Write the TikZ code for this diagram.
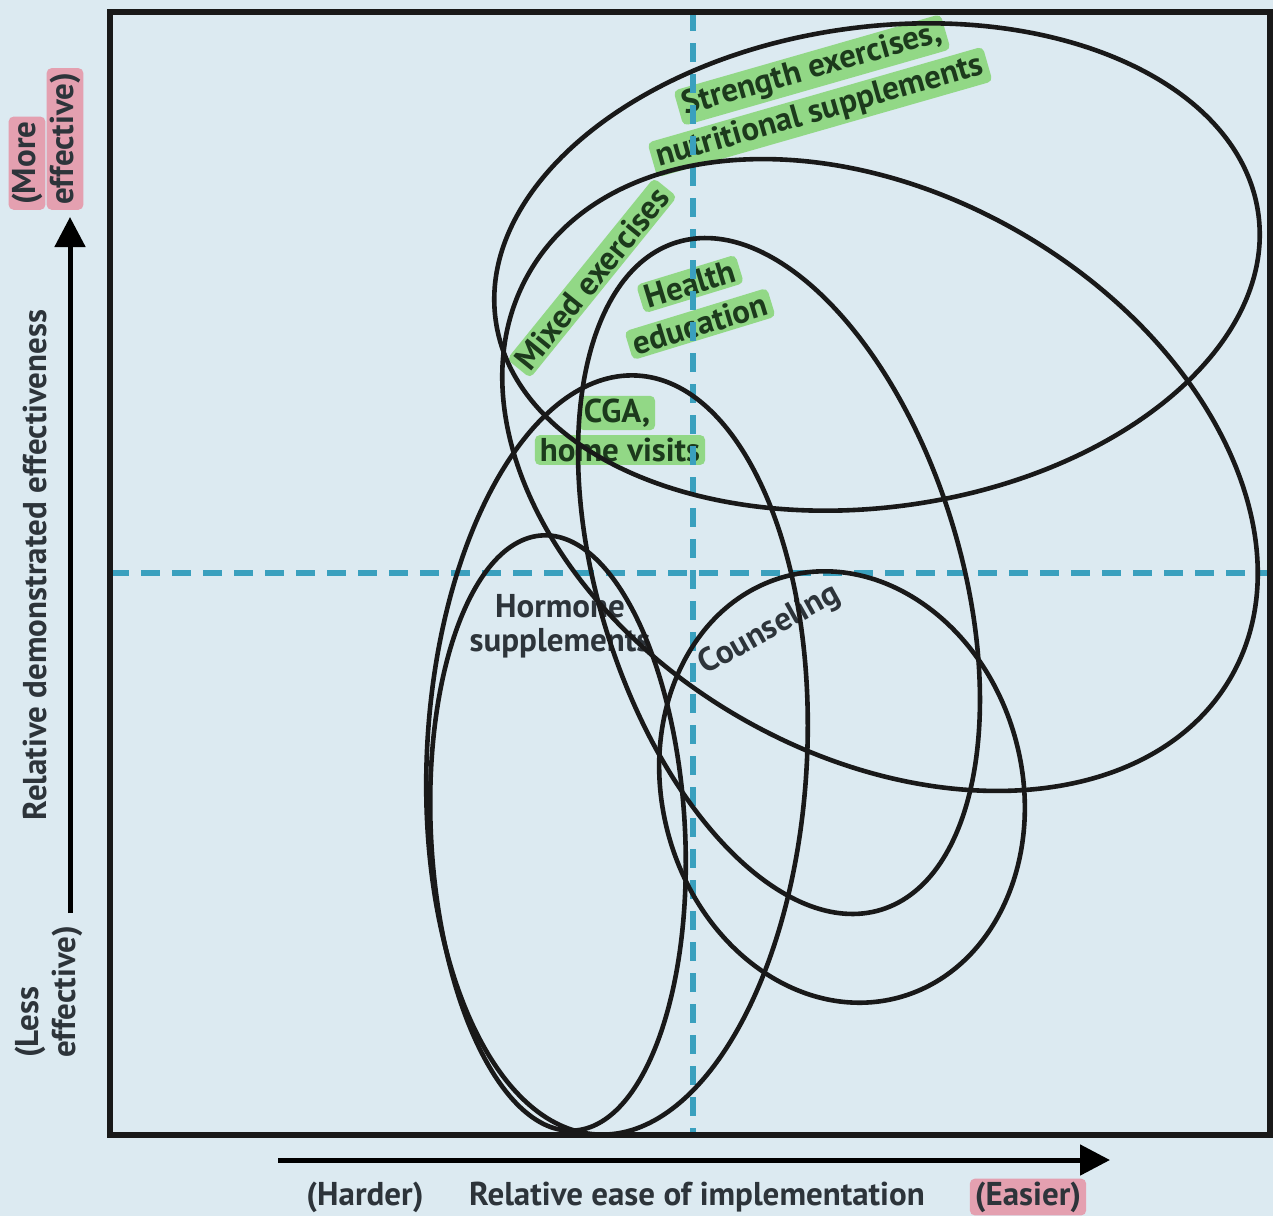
\documentclass[tikz,border=0pt]{standalone}
\usepackage{fontspec}
\setsansfont{PT Sans}
\usetikzlibrary{arrows.meta,positioning}

\definecolor{bgblue}{RGB}{220,234,241}
\definecolor{guidecol}{RGB}{58,160,190}
\definecolor{hlgreen}{RGB}{146,216,134}
\definecolor{hlpink}{RGB}{228,160,176}
\definecolor{ink}{RGB}{45,52,58}
\definecolor{greenink}{RGB}{28,58,28}

\begin{document}
\begin{tikzpicture}[
  x=1pt, y=1pt,
  font=\sffamily\bfseries\fontsize{33}{37}\selectfont,
  ring/.style={draw=black!90, line width=4.6pt},
  guideline/.style={draw=guidecol, line width=6pt, dash pattern=on 19pt off 12pt},
  axis/.style={line width=5pt, -{Triangle[length=30pt,width=30pt]}},
  hl/.style={fill=hlgreen, rounded corners=5pt, inner xsep=5pt, inner ysep=3pt, text=greenink},
  pk/.style={fill=hlpink, rounded corners=5pt, inner xsep=5pt, inner ysep=3pt, text=ink},
  lbl/.style={text=ink, inner sep=2pt}
]
\fill[bgblue] (0,0) rectangle (1273,-1216);
\useasboundingbox (0,0) rectangle (1273,-1216);

% frame corners and guide ends
\coordinate (nw) at (110,-12);
\coordinate (se) at (1270,-1135);
\coordinate (vtop) at (693,-12);
\coordinate (vbot) at (693,-1135);
\coordinate (hleft) at (110,-573);
\coordinate (hright) at (1270,-573);

% intervention labels
\node[hl, rotate=16] (strength1) at (812,-70) {Strength exercises,};
\node[hl, rotate=16] (strength2) at (820,-112) {nutritional supplements};
\node[hl, rotate=51] (mixed) at (592,-278) {Mixed exercises};
\node[hl, rotate=17] (health1) at (690,-284) {Health};
\node[hl, rotate=17] (health2) at (700,-324) {education};
\node[hl] (cga1) at (617,-413) {CGA,};
\node[hl] (cga2) at (620,-450) {home visits};
\node[lbl] (hormone1) at (560,-606) {Hormone};
\node[lbl] (hormone2) at (560,-643) {supplements};
\node[lbl, rotate=29] (counsel) at (770,-630) {Counseling};

% quadrant guides
\draw[guideline] (vtop) -- (vbot);
\draw[guideline] (hleft) -- (hright);

% ellipse centres
\coordinate (cstrength) at (877,-267);
\coordinate (cmixed) at (880,-475);
\coordinate (chealth) at (779,-576);
\coordinate (ccga) at (617,-755);
\coordinate (chormone) at (558,-833);
\coordinate (ccounsel) at (842,-787);

\draw[ring, rotate around={8:(cstrength)}] (cstrength) ellipse [x radius=385pt, y radius=240pt];
\draw[ring, rotate around={-30:(cmixed)}] (cmixed) ellipse [x radius=405pt, y radius=280pt];
\draw[ring, rotate around={17:(chealth)}] (chealth) ellipse [x radius=181pt, y radius=349pt];
\draw[ring, rotate around={-3:(ccga)}] (ccga) ellipse [x radius=190pt, y radius=380pt];
\draw[ring, rotate around={3:(chormone)}] (chormone) ellipse [x radius=127pt, y radius=298pt];
\draw[ring, rotate around={15:(ccounsel)}] (ccounsel) ellipse [x radius=180pt, y radius=218pt];

\draw[line width=5.5pt, black!90] (nw) rectangle (se);

% axes
\coordinate (ybot) at (70,-913);
\coordinate (ytop) at (70,-217);
\coordinate (xleft) at (278,-1160);
\coordinate (xright) at (1110,-1160);
\draw[axis] (ybot) -- (ytop);
\draw[axis] (xleft) -- (xright);

\node[pk, rotate=90, anchor=west] (more1) at (27,-210) {(More};
\node[pk, rotate=90, anchor=west] (more2) at (65,-210) {effective)};
\node[lbl, rotate=90, anchor=west] (less1) at (30,-1060) {(Less};
\node[lbl, rotate=90, anchor=west] (less2) at (67,-1060) {effective)};
\node[lbl, rotate=90] (ytitle) at (35,-565) {Relative demonstrated effectiveness};

\node[lbl] (harder) at (365,-1197) {(Harder)};
\node[lbl] (xtitle) at (697,-1197) {Relative ease of implementation};
\node[pk] (easier) at (1028,-1197) {(Easier)};
\end{tikzpicture}
\end{document}
